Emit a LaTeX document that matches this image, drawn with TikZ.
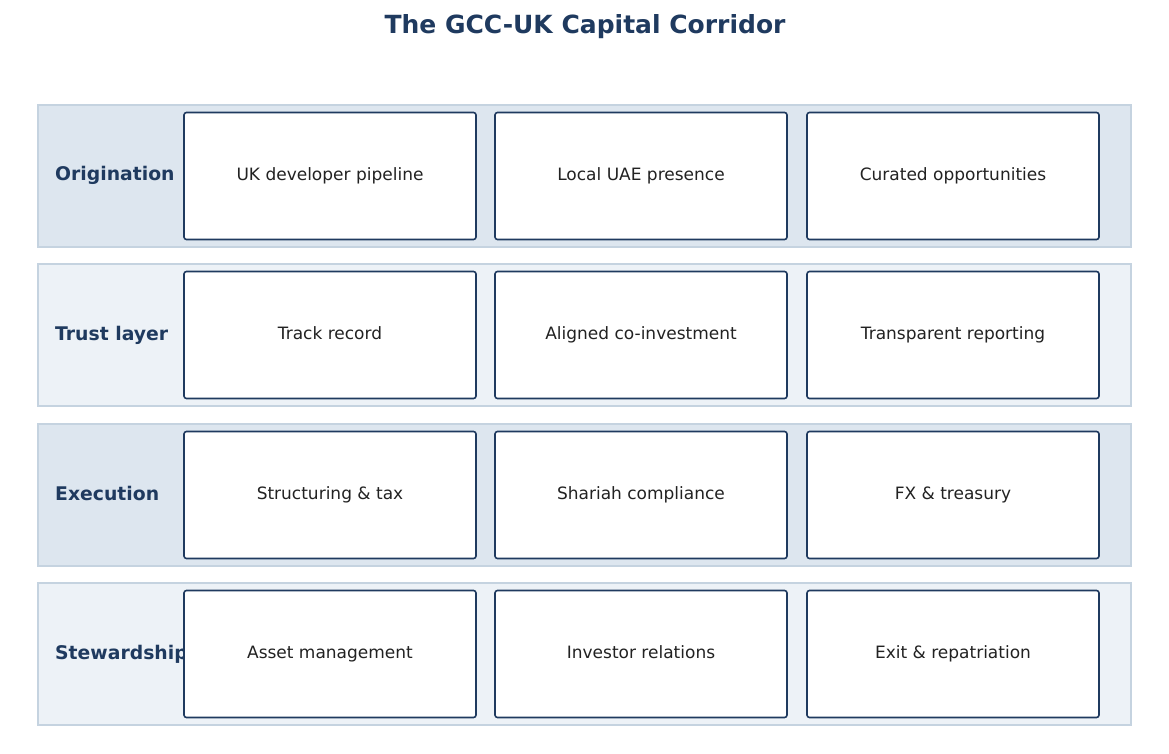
\documentclass[tikz,border=0pt]{standalone}
\usepackage{fontspec}
\setmainfont{DejaVu Sans}
\definecolor{navy}{HTML}{1F3A5F}
\definecolor{bandA}{HTML}{DDE6EF}
\definecolor{bandB}{HTML}{EDF2F7}
\definecolor{bandline}{HTML}{C5D3E0}
\definecolor{txt}{HTML}{222222}
\begin{document}
\begin{tikzpicture}[x=1pt,y=-1pt,
  band/.style={draw=bandline,line width=1.2pt},
  box/.style={draw=navy,fill=white,line width=1.6pt,rounded corners=2.5pt,minimum width=292pt,minimum height=127pt,inner sep=0pt,font=\fontsize{17}{20}\selectfont,text=txt,text height=12.5pt,text depth=3.5pt},
  lab/.style={anchor=west,inner sep=0pt,font=\fontsize{18.8}{22}\selectfont\bfseries,text=navy,text height=13.5pt,text depth=3.5pt}]
\useasboundingbox (0,0) rectangle (1169,754);
\node[font=\fontsize{25}{30}\selectfont\bfseries,text=navy] (title) at (585,27) {The GCC-UK Capital Corridor};
\foreach \i/\top/\col/\name/\a/\b/\c in {
 1/105/bandA/Origination/UK developer pipeline/Local UAE presence/Curated opportunities,
 2/264/bandB/Trust layer/Track record/Aligned co-investment/Transparent reporting,
 3/424/bandA/Execution/Structuring \& tax/Shariah compliance/FX \& treasury,
 4/583/bandB/Stewardship/Asset management/Investor relations/Exit \& repatriation}{
  \draw[band,fill=\col] (38,\top) rectangle (1131,\top+142);
  \node[lab] (l\i) at (55,\top+71) {\name};
  \node[box] (a\i) at (330,\top+71) {\a};
  \node[box] (b\i) at (641,\top+71) {\b};
  \node[box] (c\i) at (953,\top+71) {\c};
}
\end{tikzpicture}
\end{document}
